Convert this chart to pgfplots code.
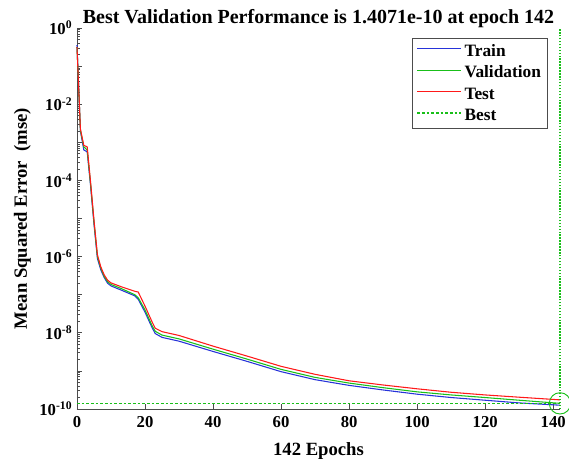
\documentclass[border=0pt]{standalone}
\usepackage{fontspec}
\setmainfont{Liberation Serif}
\usepackage{pgfplots}
\pgfplotsset{compat=1.18}
\definecolor{mblue}{rgb}{0.15,0.2,0.85}
\definecolor{mgreen}{rgb}{0.1,0.75,0.1}
\definecolor{mred}{rgb}{1,0.1,0.1}
\definecolor{axgray}{rgb}{0.3,0.3,0.3}
\begin{document}
\begin{tikzpicture}[x=0.75pt,y=0.75pt]
\useasboundingbox (-77,-53) rectangle (492,409);
\begin{axis}[
  at={(0,0)}, anchor=south west,
  scale only axis, width=362.25pt, height=285.75pt,
  ymode=log, xmin=0, xmax=142, ymin=1e-10, ymax=1,
  axis lines=left, axis line style={-, draw=axgray, line width=0.7pt},
  clip=false,
  tick align=inside,
  every tick/.style={axgray, line width=0.5pt},
  major tick length=4pt, minor tick length=2.2pt,
  xtick={0,20,40,60,80,100,120,140},
  xticklabels={0,20,40,60,80,100,120,140},
  ytick={1e-10,1e-9,1e-8,1e-7,1e-6,1e-5,1e-4,1e-3,1e-2,1e-1,1},
  yticklabels={10\textsuperscript{-10},,10\textsuperscript{-8},,10\textsuperscript{-6},,10\textsuperscript{-4},,10\textsuperscript{-2},,10\textsuperscript{0}},
  tick label style={font=\fontsize{12.5}{14}\selectfont\bfseries},
  xticklabel style={yshift=-2pt},
  title={Best Validation Performance is 1.4071e-10 at epoch 142},
  every axis title/.style={at={(axis description cs:0.5,1)}, anchor=base, yshift=3.75pt, font=\fontsize{15}{17}\selectfont\bfseries},
  xlabel={142 Epochs},
  every axis x label/.style={at={(axis description cs:0.5,0)}, anchor=base, yshift=-34.5pt, font=\fontsize{14}{16}\selectfont\bfseries},
  ylabel={Mean Squared Error\ \ (mse)},
  every axis y label/.style={at={(axis description cs:0,0.5)}, rotate=90, anchor=base, yshift=37.5pt, font=\fontsize{14}{16}\selectfont\bfseries},
  legend style={at={(axis description cs:0.975,0.974)}, anchor=north east, draw=axgray,
    font=\fontsize{13}{15}\selectfont\bfseries, row sep=1.8pt, inner xsep=3pt, inner ysep=2.5pt},
  legend cell align=left,
  legend image code/.code={\draw[#1, line width=1.1pt] (0pt,2pt) -- (33pt,2pt);},
]
\addplot[draw=mblue, line width=0.8pt] coordinates {
(0,0.355) (1,1.995e-3) (2,6.31e-4) (3,5.62e-4) (4,7.08e-5) (5,7.08e-6) (6,8.91e-7)
(7,4.47e-7) (8,2.82e-7) (9,2.0e-7) (10,1.70e-7) (13,1.32e-7) (17,9.33e-8) (18,7.59e-8)
(20,3.47e-8) (22,1.41e-8) (23,9.55e-9) (25,7.59e-9) (30,6.03e-9) (40,3.24e-9)
(50,1.78e-9) (60,9.55e-10) (70,5.89e-10) (80,4.17e-10) (90,3.16e-10) (100,2.45e-10)
(110,2.0e-10) (120,1.70e-10) (130,1.445e-10) (142,1.259e-10)};
\addlegendentry{Train}
\addplot[draw=mgreen, line width=0.8pt] coordinates {
(0,0.316) (1,2.089e-3) (2,7.59e-4) (3,6.31e-4) (4,7.94e-5) (5,7.94e-6) (6,1.0e-6)
(7,5.01e-7) (8,3.02e-7) (9,2.19e-7) (10,1.86e-7) (13,1.45e-7) (17,1.0e-7) (18,8.32e-8)
(20,3.98e-8) (22,1.585e-8) (23,1.096e-8) (25,8.71e-9) (30,6.92e-9) (40,3.72e-9)
(50,2.04e-9) (60,1.096e-9) (70,6.76e-10) (80,4.79e-10) (90,3.63e-10) (100,2.82e-10)
(110,2.34e-10) (120,2.0e-10) (130,1.70e-10) (142,1.4071e-10)};
\addlegendentry{Validation}
\addplot[draw=mred, line width=0.8pt] coordinates {
(0,0.316) (1,2.239e-3) (2,8.32e-4) (3,7.59e-4) (4,8.91e-5) (5,8.91e-6) (6,1.122e-6)
(7,5.37e-7) (8,3.31e-7) (9,2.40e-7) (10,2.04e-7) (13,1.62e-7) (17,1.23e-7) (18,1.175e-7)
(20,5.01e-8) (22,2.0e-8) (23,1.318e-8) (25,1.072e-8) (30,8.51e-9) (40,4.47e-9)
(50,2.45e-9) (60,1.318e-9) (70,8.13e-10) (80,5.50e-10) (90,4.27e-10) (100,3.39e-10)
(110,2.75e-10) (120,2.34e-10) (130,2.04e-10) (142,1.738e-10)};
\addlegendentry{Test}
\addplot[draw=mgreen, line width=1.1pt, dash pattern=on 2pt off 1.5pt] coordinates {(0,1.4071e-10) (142,1.4071e-10)};
\addlegendentry{Best}
\addplot[draw=mgreen, line width=0.8pt, dash pattern=on 1.1pt off 1.1pt, forget plot] coordinates {(142,1e-10) (142,1)};
\addplot[draw=mgreen, only marks, mark=o, mark size=8pt, mark options={draw=mgreen, line width=0.7pt}, forget plot] coordinates {(142,1.4071e-10)};
\end{axis}
\end{tikzpicture}
\end{document}
